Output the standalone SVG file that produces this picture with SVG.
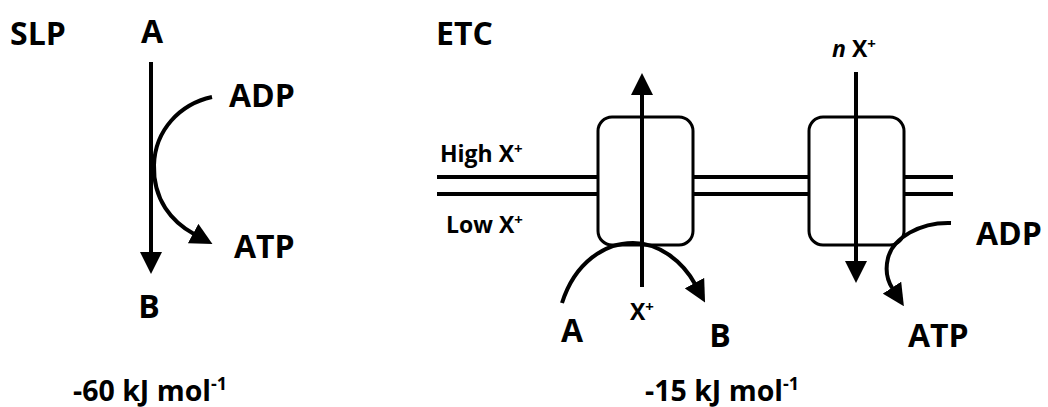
<svg xmlns="http://www.w3.org/2000/svg" width="1048" height="407" viewBox="0 0 1048 407">
<style>
text{font-family:"Open Sans","Liberation Sans",sans-serif;font-weight:bold;fill:#000}
.big{font-size:32px}
.sm{font-size:23px}
.en{font-size:28.5px}
.ln{stroke:#000;stroke-width:4;fill:none}
.box{stroke:#000;stroke-width:3;fill:#fff}
</style>
<defs>
<marker id="ah" viewBox="0 0 22 22" markerUnits="userSpaceOnUse" markerWidth="22" markerHeight="22" refX="1" refY="11" orient="auto">
<path d="M0,0 L22,11 L0,22 z" fill="#000"/>
</marker>
</defs>
<rect width="1048" height="407" fill="#fff"/>
<g id="membrane">
<line class="ln" x1="437" y1="177" x2="598" y2="177"/>
<line class="ln" x1="437" y1="194" x2="598" y2="194"/>
<line class="ln" x1="693" y1="177" x2="809" y2="177"/>
<line class="ln" x1="693" y1="194" x2="809" y2="194"/>
<line class="ln" x1="904" y1="177" x2="953" y2="177"/>
<line class="ln" x1="904" y1="194" x2="953" y2="194"/>
</g>
<g id="box1"><rect class="box" x="598" y="117" width="95" height="128" rx="14"/></g>
<g id="box2"><rect class="box" x="809" y="117" width="95" height="128" rx="14"/></g>
<g id="connectors">
<line class="ln" x1="151" y1="62" x2="151" y2="253" marker-end="url(#ah)"/>
<path class="ln" d="M212,97 C180,104 155,130 154,165 C153,200 172,222 194,234" marker-end="url(#ah)"/>
<line class="ln" x1="642" y1="287" x2="642" y2="94" marker-end="url(#ah)"/>
<path class="ln" d="M562,303 C575,262 605,243 633,243 C660,243 683,262 695,284" marker-end="url(#ah)"/>
<line class="ln" x1="856" y1="72" x2="856" y2="262" marker-end="url(#ah)"/>
<path class="ln" d="M951,223 C920,222 893,238 888,258 C885,270 887,280 892.5,288.5" marker-end="url(#ah)"/>
</g>
<g id="slp-labels">
<text class="big" x="10" y="45">SLP</text>
<text class="big" x="152" y="43" text-anchor="middle">A</text>
<text class="big" x="229" y="107">ADP</text>
<text class="big" x="234" y="258">ATP</text>
<text class="big" x="149" y="318" text-anchor="middle">B</text>
<text class="en" x="73" y="401">-60 kJ mol<tspan font-size="18" dy="-11">-1</tspan></text>
</g>
<g id="etc-labels">
<text class="big" x="436" y="45">ETC</text>
<text class="sm" x="440" y="162">High X<tspan font-size="15" dy="-8">+</tspan></text>
<text class="sm" x="446" y="233">Low X<tspan font-size="15" dy="-8">+</tspan></text>
<text class="sm" x="630" y="320">X<tspan font-size="15" dy="-8">+</tspan></text>
<text class="big" x="572" y="342" text-anchor="middle">A</text>
<text class="big" x="720" y="347" text-anchor="middle">B</text>
<text class="sm" x="832" y="57"><tspan font-style="italic">n</tspan> X<tspan font-size="15" dy="-8">+</tspan></text>
<text class="big" x="976" y="245">ADP</text>
<text class="big" x="908" y="347">ATP</text>
<text class="en" x="645" y="401">-15 kJ mol<tspan font-size="18" dy="-11">-1</tspan></text>
</g>
</svg>
